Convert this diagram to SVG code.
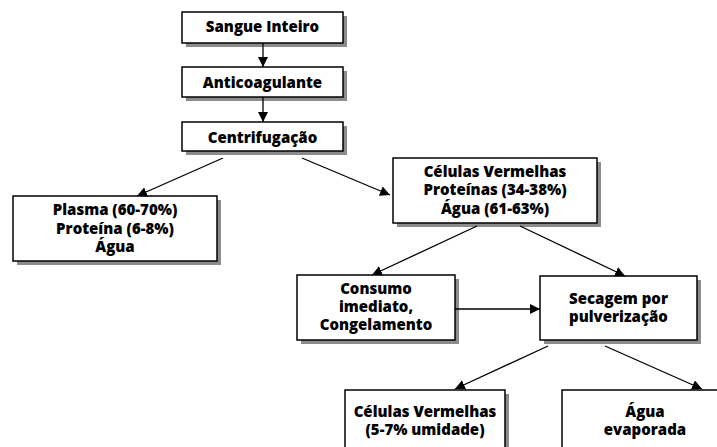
<svg xmlns="http://www.w3.org/2000/svg" width="717" height="447" viewBox="0 0 717 447">
  <defs>
    <marker id="arrow" viewBox="0 0 10 10" refX="10" refY="5" markerWidth="10" markerHeight="10" markerUnits="userSpaceOnUse" orient="auto">
      <path d="M0,0 L10,5 L0,10 Z" fill="#000"/>
    </marker>
  </defs>
  <style>
    .shadow { fill: #8c8c8c; }
    .box { fill: #fff; stroke: #000; stroke-width: 1.5; }
    .label { font-family: "Open Sans", "Noto Sans", "Liberation Sans", sans-serif; font-weight: 800; font-size: 15px; fill: #000; text-anchor: middle; }
    .edge { stroke: #000; stroke-width: 1.3; fill: none; marker-end: url(#arrow); }
  </style>
  <rect width="717" height="447" fill="#fff"/>

  <g id="sangue">
    <rect class="shadow" x="186" y="16" width="161" height="31"/>
    <rect class="box" x="182" y="12" width="161" height="31"/>
    <text class="label" x="262.5" y="32">Sangue Inteiro</text>
  </g>
  <g id="anticoagulante">
    <rect class="shadow" x="186" y="71" width="161" height="30"/>
    <rect class="box" x="182" y="67" width="161" height="30"/>
    <text class="label" x="262.5" y="88">Anticoagulante</text>
  </g>
  <g id="centrifugacao">
    <rect class="shadow" x="186" y="126" width="161" height="29"/>
    <rect class="box" x="182" y="122" width="161" height="29"/>
    <text class="label" x="262.5" y="143">Centrifugação</text>
  </g>
  <g id="plasma">
    <rect class="shadow" x="17" y="200" width="204" height="65"/>
    <rect class="box" x="13" y="196" width="204" height="65"/>
    <text class="label" x="115" y="215">Plasma (60-70%)</text>
    <text class="label" x="115" y="234">Proteína (6-8%)</text>
    <text class="label" x="115" y="252">Água</text>
  </g>
  <g id="celulas">
    <rect class="shadow" x="397" y="162" width="204" height="65"/>
    <rect class="box" x="393" y="158" width="204" height="65"/>
    <text class="label" x="495" y="177">Células Vermelhas</text>
    <text class="label" x="495" y="195">Proteínas (34-38%)</text>
    <text class="label" x="495" y="214">Água (61-63%)</text>
  </g>
  <g id="consumo">
    <rect class="shadow" x="301" y="279" width="158" height="65"/>
    <rect class="box" x="297" y="275" width="158" height="65"/>
    <text class="label" x="376" y="294">Consumo</text>
    <text class="label" x="376" y="312">imediato,</text>
    <text class="label" x="376" y="330">Congelamento</text>
  </g>
  <g id="secagem">
    <rect class="shadow" x="544" y="280" width="157" height="64"/>
    <rect class="box" x="540" y="276" width="157" height="64"/>
    <text class="label" x="618.5" y="304">Secagem por</text>
    <text class="label" x="618.5" y="322">pulverização</text>
  </g>
  <g id="celulas-secas">
    <rect class="shadow" x="349" y="394" width="160" height="70"/>
    <rect class="box" x="345" y="390" width="160" height="70"/>
    <text class="label" x="425" y="417">Células Vermelhas</text>
    <text class="label" x="425" y="435">(5-7% umidade)</text>
  </g>
  <g id="agua-evaporada">
    <rect class="shadow" x="566" y="394" width="166" height="70"/>
    <rect class="box" x="562" y="390" width="166" height="70"/>
    <text class="label" x="645" y="417">Água</text>
    <text class="label" x="645" y="435">evaporada</text>
  </g>

  <g id="connectors">
    <line class="edge" x1="263" y1="43" x2="263" y2="67"/>
    <line class="edge" x1="263" y1="97" x2="263" y2="122"/>
    <line class="edge" x1="223" y1="158" x2="137" y2="196"/>
    <line class="edge" x1="302" y1="158" x2="390" y2="195"/>
    <line class="edge" x1="477" y1="226" x2="372" y2="275"/>
    <line class="edge" x1="520" y1="226" x2="625" y2="276"/>
    <line class="edge" x1="455" y1="309" x2="540" y2="309"/>
    <line class="edge" x1="548" y1="346" x2="455" y2="389"/>
    <line class="edge" x1="605" y1="346" x2="702" y2="389"/>
  </g>
</svg>
